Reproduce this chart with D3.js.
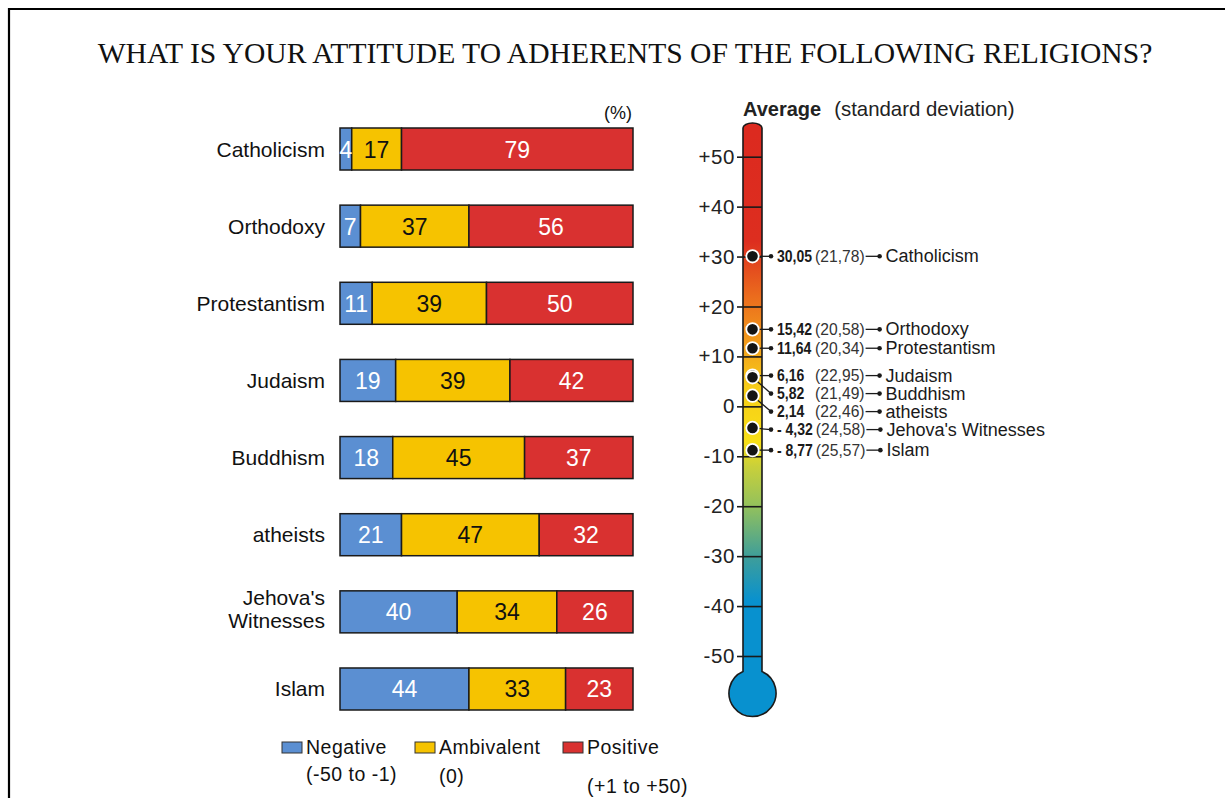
<!DOCTYPE html>
<html>
<head>
<meta charset="utf-8">
<script src="https://cdn.jsdelivr.net/npm/d3@7"></script>
<style>
  html, body { margin: 0; padding: 0; background: #fff; }
  svg { display: block; }
</style>
</head>
<body>
<svg id="chart" width="1225" height="798"></svg>
<script>
// ---------------- DATA ----------------
const categories = ["Catholicism", "Orthodoxy", "Protestantism", "Judaism", "Buddhism", "atheists", "Jehova's Witnesses", "Islam"];
const negative   = [4, 7, 11, 19, 18, 21, 40, 44];
const ambivalent = [17, 37, 39, 39, 45, 47, 34, 33];
const positive   = [79, 56, 50, 42, 37, 32, 26, 23];
const averages   = [30.05, 15.42, 11.64, 6.16, 5.82, 2.14, -4.32, -8.77];
const stdDevs    = [21.78, 20.58, 20.34, 22.95, 21.49, 22.46, 24.58, 25.57];
const scaleTicks = [50, 40, 30, 20, 10, 0, -10, -20, -30, -40, -50];
const seriesNames = ["Negative", "Ambivalent", "Positive"];
const seriesNotes = ["(-50 to -1)", "(0)", "(+1 to +50)"];

const titleText = "WHAT IS YOUR ATTITUDE TO ADHERENTS OF THE FOLLOWING RELIGIONS?";

// ---------------- STYLE ----------------
const colors = ["#5b8fd2", "#f6c300", "#d93130"];
const textColors = ["#ffffff", "#111111", "#ffffff"];
const sans = "'Liberation Sans', Arial, Helvetica, sans-serif";

const svg = d3.select("#chart");

// frame
svg.append("path")
  .attr("d", "M9,798 V9 H1225")
  .attr("fill", "none").attr("stroke", "#000").attr("stroke-width", 2.2);

// title
svg.append("text")
  .attr("x", 625).attr("y", 63)
  .attr("text-anchor", "middle")
  .attr("font-family", "'Liberation Serif', 'Times New Roman', serif")
  .attr("font-size", 29.6)
  .attr("fill", "#111")
  .text(titleText);

// ---------------- BARS ----------------
const x = d3.scaleLinear().domain([0, 100]).range([340, 633]);
const y = d3.scaleBand().domain(categories).range([128, 710]).paddingInner(0.4554).paddingOuter(0);

const rows = categories.map((c, i) => {
  const vals = [negative[i], ambivalent[i], positive[i]];
  let acc = 0;
  return { cat: c, segs: vals.map((v, k) => { const s = { k, v, x0: acc, x1: acc + v }; acc += v; return s; }) };
});

const gRows = svg.append("g").selectAll("g").data(rows).join("g");

gRows.selectAll("rect").data(d => d.segs.map(s => ({ ...s, cat: d.cat })))
  .join("rect")
  .attr("x", s => x(s.x0))
  .attr("y", s => y(s.cat))
  .attr("width", s => x(s.x1) - x(s.x0))
  .attr("height", y.bandwidth())
  .attr("fill", s => colors[s.k])
  .attr("stroke", "#1a1a1a")
  .attr("stroke-width", 1.5);

gRows.selectAll("text.val").data(d => d.segs.map(s => ({ ...s, cat: d.cat })))
  .join("text")
  .attr("class", "val")
  .attr("x", s => (x(s.x0) + x(s.x1)) / 2)
  .attr("y", s => y(s.cat) + y.bandwidth() / 2 + 8.5)
  .attr("text-anchor", "middle")
  .attr("font-family", sans)
  .attr("font-size", 23)
  .attr("fill", s => textColors[s.k])
  .text(s => s.v);

// category labels
const gLab = svg.append("g");
categories.forEach(c => {
  const cy = y(c) + y.bandwidth() / 2;
  const t = gLab.append("text")
    .attr("text-anchor", "end")
    .attr("font-family", sans)
    .attr("font-size", 21)
    .attr("fill", "#111");
  if (c === "Jehova's Witnesses") {
    t.append("tspan").attr("x", 325).attr("y", cy - 7).text("Jehova's");
    t.append("tspan").attr("x", 325).attr("y", cy + 16.5).text("Witnesses");
  } else {
    t.attr("x", 325).attr("y", cy + 7.5).text(c);
  }
});

svg.append("text")
  .attr("x", 632).attr("y", 119)
  .attr("text-anchor", "end")
  .attr("font-family", sans).attr("font-size", 18).attr("fill", "#111")
  .text("(%)");

// legend
const legendX = [282, 415, 563];
const legendNoteDY = [27, 29, 39];
const gLeg = svg.append("g");
seriesNames.forEach((n, i) => {
  gLeg.append("rect")
    .attr("x", legendX[i]).attr("y", 742)
    .attr("width", 20).attr("height", 11)
    .attr("fill", colors[i]).attr("stroke", "#333").attr("stroke-width", 1);
  gLeg.append("text")
    .attr("x", legendX[i] + 24).attr("y", 754)
    .attr("font-family", sans).attr("font-size", 19.5)
    .attr("letter-spacing", 0.5).attr("fill", "#111")
    .text(n);
  gLeg.append("text")
    .attr("x", legendX[i] + 24).attr("y", 754 + legendNoteDY[i])
    .attr("font-family", sans).attr("font-size", 19.5)
    .attr("letter-spacing", 0.5).attr("fill", "#111")
    .text(seriesNotes[i]);
});

// ---------------- THERMOMETER ----------------
const t = d3.scaleLinear().domain([-50, 50]).range([656, 156.7]);
const tubeL = 743, tubeR = 762, tubeC = (tubeL + tubeR) / 2;
const tubeTop = 123;
const bulbR = 23.5, bulbCY = 693;
const joinY = bulbCY - Math.sqrt(bulbR * bulbR - ((tubeR - tubeL) / 2) ** 2);

const defs = svg.append("defs");
const grad = defs.append("linearGradient")
  .attr("id", "thermo").attr("gradientUnits", "userSpaceOnUse")
  .attr("x1", 0).attr("x2", 0).attr("y1", tubeTop).attr("y2", bulbCY + bulbR);
const H = (bulbCY + bulbR) - tubeTop;
const gradStops = [
  [55, "#dc2a1f"], [33, "#dd2e1f"], [22, "#eb6c1d"], [12, "#f3a01b"],
  [4, "#f6cc18"], [-7, "#f8df16"], [-12, "#c9d03a"], [-20, "#93c15c"],
  [-30, "#3f9e99"], [-39, "#0891cf"], [-60, "#0891cf"]
];
grad.selectAll("stop").data(gradStops).join("stop")
  .attr("offset", d => Math.max(0, Math.min(1, (Math.min(t(d[0]), tubeTop + H) - tubeTop) / H)))
  .attr("stop-color", d => d[1]);

const thermoPath = `M${tubeL},${joinY} L${tubeL},${tubeTop + 5} A${(tubeR - tubeL) / 2},5 0 0 1 ${tubeR},${tubeTop + 5} L${tubeR},${joinY} A${bulbR},${bulbR} 0 1 1 ${tubeL},${joinY} Z`;

svg.append("path").attr("d", thermoPath).attr("fill", "url(#thermo)");

// axis ticks
const axis = d3.axisLeft(t)
  .tickValues(scaleTicks)
  .tickSize(25)
  .tickPadding(2)
  .tickFormat(v => v > 0 ? "+" + v : String(v));
const gAxis = svg.append("g").attr("transform", `translate(${tubeR},0)`).call(axis);
gAxis.select(".domain").remove();
gAxis.selectAll(".tick line").attr("stroke", "#1a1a1a").attr("stroke-width", 1.6);
gAxis.selectAll(".tick text")
  .attr("font-family", sans).attr("font-size", 20.5)
  .attr("letter-spacing", 0.6)
  .attr("fill", "#222");

svg.append("path").attr("d", thermoPath)
  .attr("fill", "none").attr("stroke", "#1a1a1a").attr("stroke-width", 1.6);

// header
const hdr = svg.append("text").attr("x", 743).attr("y", 116)
  .attr("font-family", sans).attr("fill", "#222");
hdr.append("tspan").attr("font-weight", "bold").attr("font-size", 20).text("Average");
hdr.append("tspan").attr("font-size", 20.4).attr("dx", 13).text("(standard deviation)");

// label positions with simple collision avoidance
const fmt = v => (v < 0 ? "- " : "") + Math.abs(v).toFixed(2).replace(".", ",");
const order = d3.range(categories.length).sort((a, b) => averages[b] - averages[a]);
const labelY = [];
let prev = -Infinity;
order.forEach(i => {
  let ly = t(averages[i]);
  if (ly < prev + 18) ly = prev + 18;
  labelY[i] = ly;
  prev = ly;
});

const gMark = svg.append("g");
const dot1X = 771;
categories.forEach((c, i) => {
  const my = t(averages[i]);
  const ly = labelY[i];
  gMark.append("line")
    .attr("x1", tubeC).attr("y1", my).attr("x2", dot1X).attr("y2", ly)
    .attr("stroke", "#1a1a1a").attr("stroke-width", 1.3);
  gMark.append("circle").attr("cx", dot1X).attr("cy", ly).attr("r", 2.3).attr("fill", "#1a1a1a");
});
categories.forEach((c, i) => {
  gMark.append("circle")
    .attr("cx", tubeC).attr("cy", t(averages[i])).attr("r", 6.2)
    .attr("fill", "#141414").attr("stroke", "#fff").attr("stroke-width", 1.8);
});

const condense = 0.85;
categories.forEach((c, i) => {
  const ly = labelY[i];
  const vx = dot1X + 6;
  const vt = gMark.append("text")
    .attr("transform", `translate(${vx},${ly + 5.5}) scale(${condense},1)`)
    .attr("font-family", sans).attr("font-weight", "bold").attr("font-size", 16.5)
    .attr("fill", "#1a1a1a").text(fmt(averages[i]));
  const vEnd = vx + vt.node().getComputedTextLength() * condense;
  const px = Math.max(vx + 38, vEnd + 3);
  const pt = gMark.append("text")
    .attr("transform", `translate(${px},${ly + 5.5}) scale(0.92,1)`)
    .attr("font-family", sans).attr("font-size", 17)
    .attr("fill", "#333").text("(" + stdDevs[i].toFixed(2).replace(".", ",") + ")");
  const pEnd = px + pt.node().getComputedTextLength() * 0.92;
  const d2 = pEnd + 15;
  gMark.append("line").attr("x1", pEnd + 1).attr("x2", d2).attr("y1", ly).attr("y2", ly)
    .attr("stroke", "#1a1a1a").attr("stroke-width", 1.3);
  gMark.append("circle").attr("cx", d2).attr("cy", ly).attr("r", 2.3).attr("fill", "#1a1a1a");
  gMark.append("text")
    .attr("x", d2 + 6).attr("y", ly + 6)
    .attr("font-family", sans).attr("font-size", 18)
    .attr("fill", "#1a1a1a").text(c);
});
</script>
</body>
</html>
